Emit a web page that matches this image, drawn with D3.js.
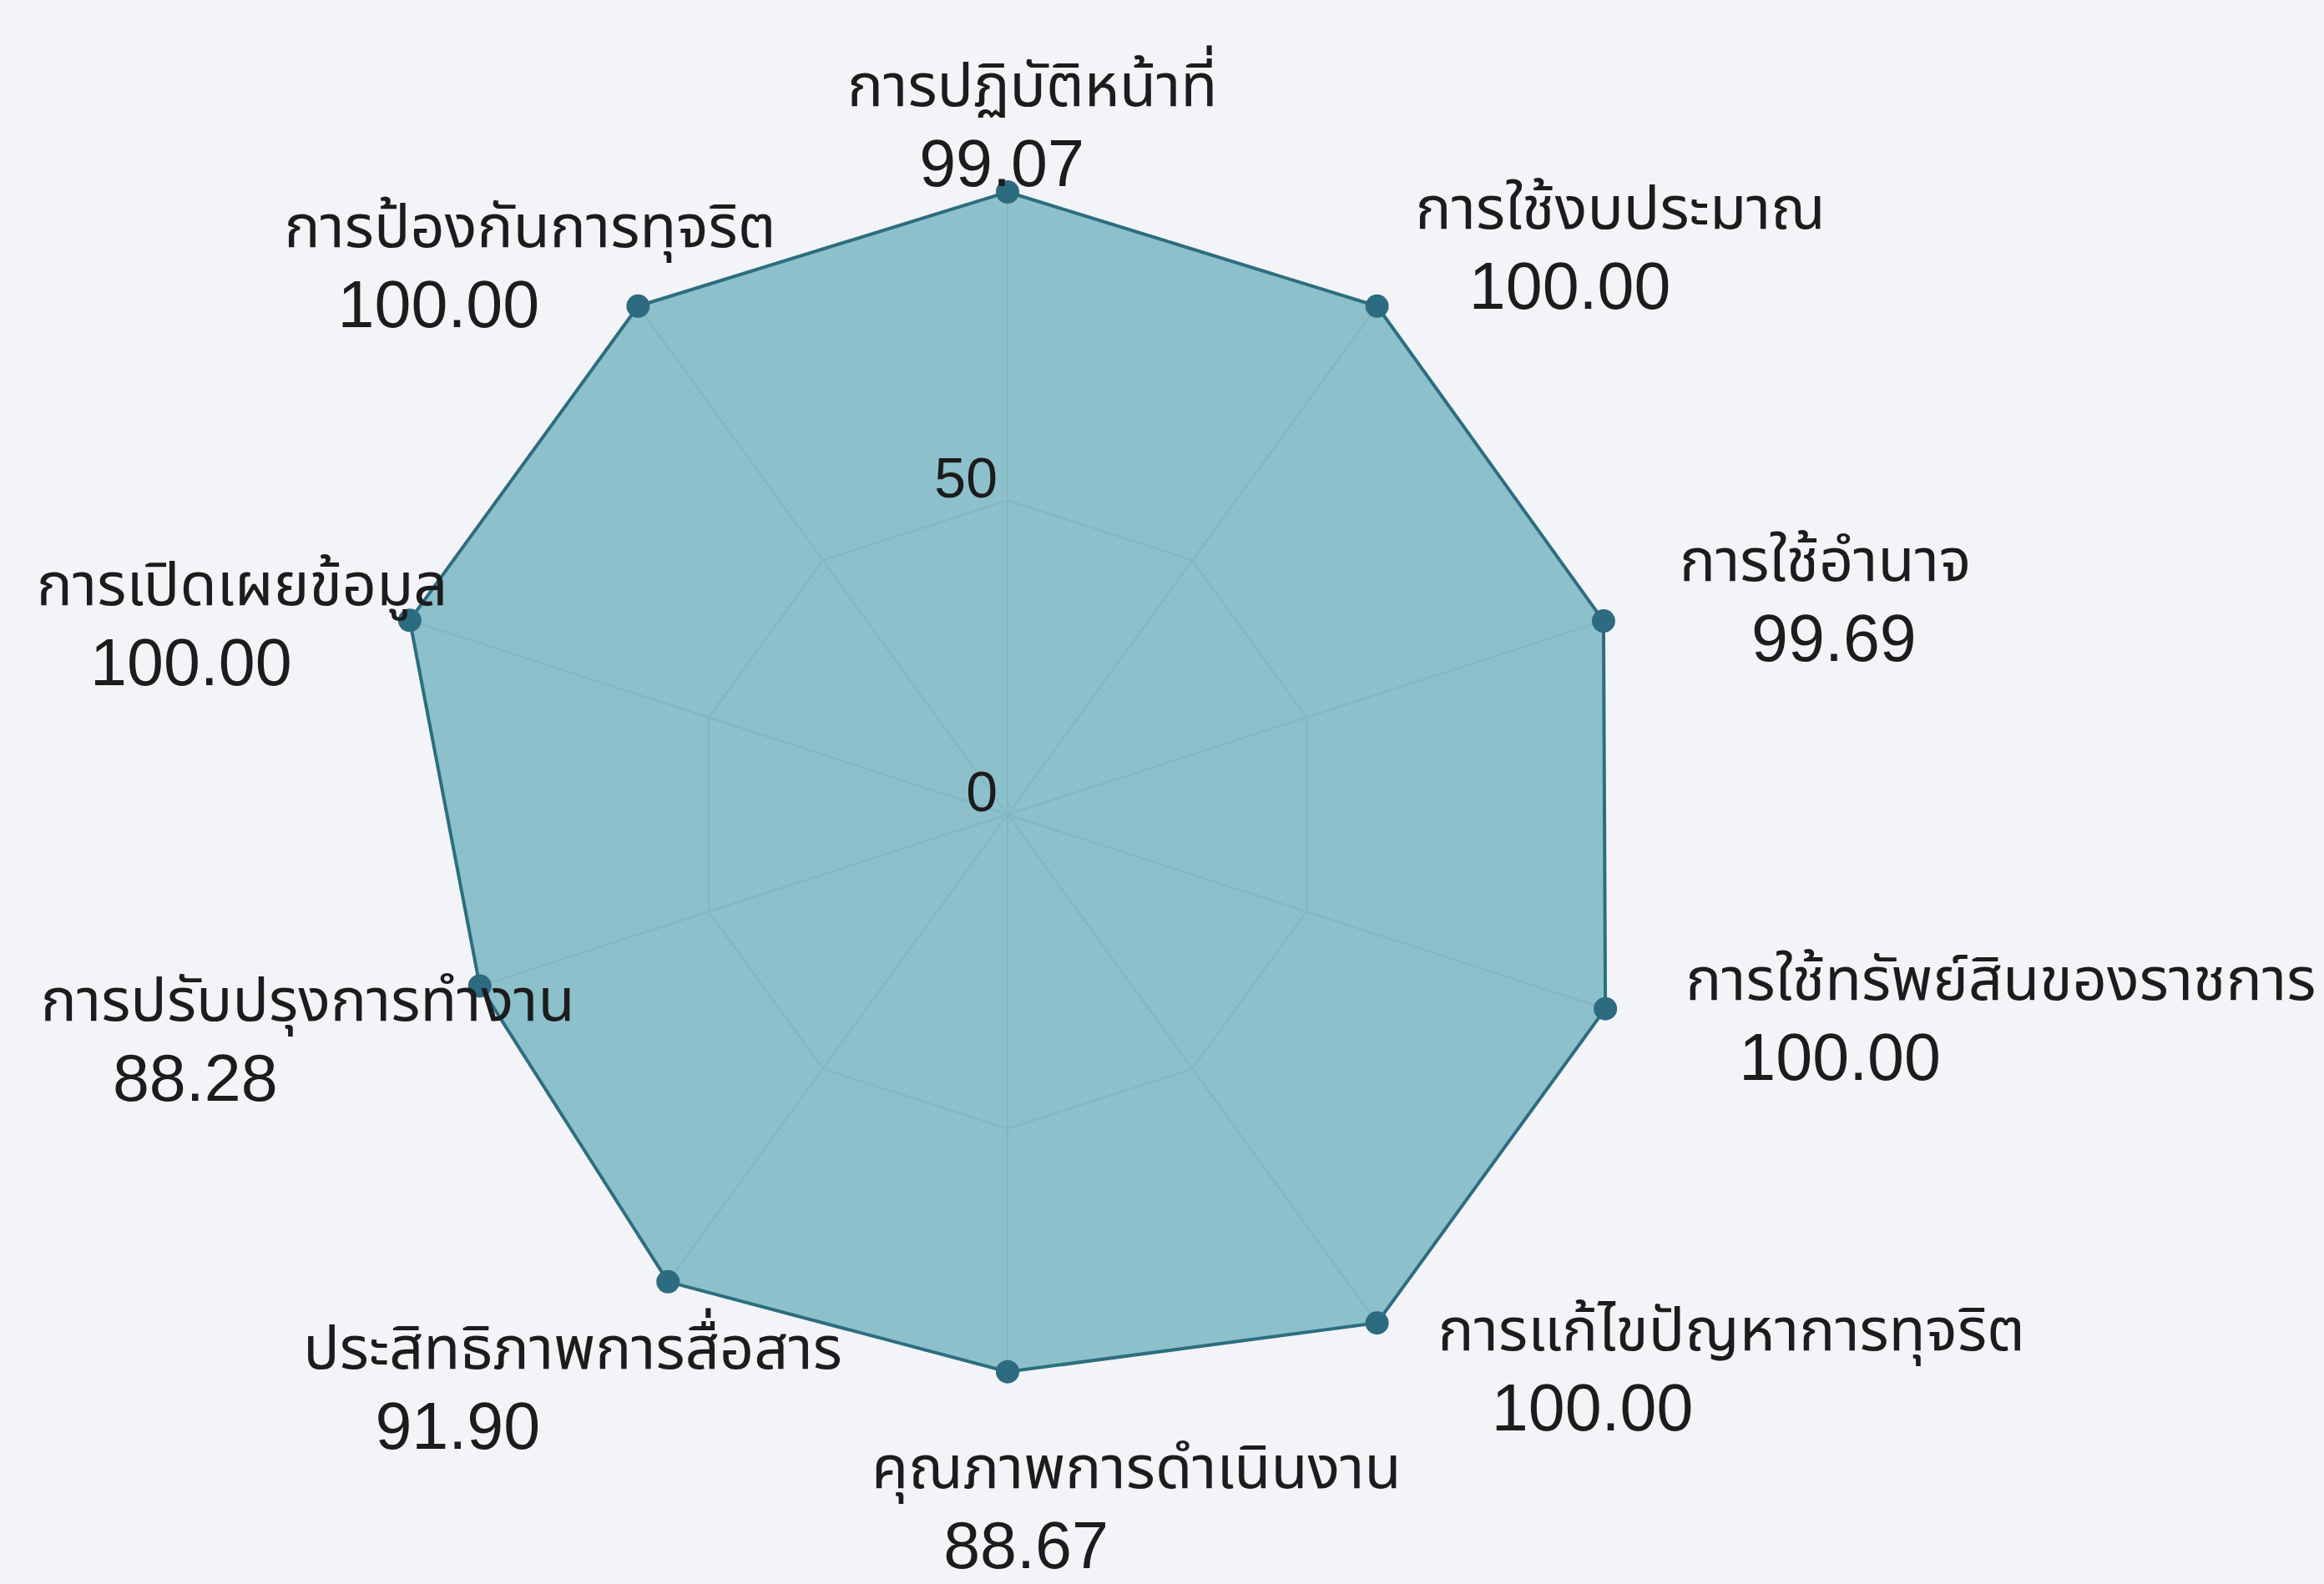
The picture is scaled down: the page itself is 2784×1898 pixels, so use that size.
<!DOCTYPE html>
<html>
<head>
<meta charset="utf-8">
<script src="https://cdn.jsdelivr.net/npm/d3@7"></script>
<style>
  body { margin: 0; background: #f3f4f7; }
  text { fill: #1c1c1c; }
</style>
</head>
<body>
<div id="chart"></div>
<script>
    // categories clockwise from the top
    var categories = ["การปฏิบัติหน้าที่", "การใช้งบประมาณ", "การใช้อำนาจ", "การใช้ทรัพย์สินของราชการ",
        "การแก้ไขปัญหาการทุจริต", "คุณภาพการดำเนินงาน", "ประสิทธิภาพการสื่อสาร",
        "การปรับปรุงการทำงาน", "การเปิดเผยข้อมูล", "การป้องกันการทุจริต"];
    var scores = [99.07, 100.00, 99.69, 100.00, 100.00, 88.67, 91.90, 88.28, 100.00, 100.00];
    var tickValues = [0, 50];
    var gridValues = [50, 100];

    // where each label block sits, relative to its point (cat text left edge, cat text middle)
    var labelNudge = [[-192, -124], [46, -114], [91, -69], [96, -32], [73, 12],
        [-163, 118], [-437, 83], [-526, 21], [-447, -39], [-424, -92]];

    var width = 2784, height = 1898;
    var cx = 1207, cy = 976, R = 753;

    var svg = d3.select("#chart")
                .append("svg")
                .attr("width", width)
                .attr("height", height);

    var g = svg.append("g")
               .attr("transform", "translate(" + cx + "," + cy + ")");

    var r = d3.scaleLinear().domain([0, 100]).range([0, R]);
    var angle = d3.scalePoint()
                  .domain(d3.range(categories.length + 1))
                  .range([0, 2 * Math.PI]);

    function px(i, v) { return r(v) * Math.sin(angle(i)); }
    function py(i, v) { return -r(v) * Math.cos(angle(i)); }

    var radar = d3.lineRadial()
                  .angle(function(d, i) { return angle(i); })
                  .radius(function(d) { return r(d); })
                  .curve(d3.curveLinearClosed);

    // the grid only shows through the filled area
    svg.append("clipPath")
       .attr("id", "inside")
       .append("path")
       .attr("transform", "translate(" + cx + "," + cy + ")")
       .datum(scores)
       .attr("d", radar);

    g.append("path")
     .datum(scores)
     .attr("d", radar)
     .style("fill", "#8cc0cb");

    var grid = svg.append("g")
                  .attr("clip-path", "url(#inside)")
                  .append("g")
                  .attr("transform", "translate(" + cx + "," + cy + ")");

    grid.selectAll(".ring")
     .data(gridValues)
     .enter()
     .append("path")
     .attr("class", "ring")
     .attr("d", function(v) { return radar(categories.map(function() { return v; })); })
     .style("fill", "none")
     .style("stroke", "#84b6c2")
     .style("stroke-width", 2);

    grid.selectAll(".spoke")
     .data(categories)
     .enter()
     .append("line")
     .attr("class", "spoke")
     .attr("x1", 0).attr("y1", 0)
     .attr("x2", function(d, i) { return px(i, 100); })
     .attr("y2", function(d, i) { return py(i, 100); })
     .style("stroke", "#84b6c2")
     .style("stroke-width", 2);

    var front = svg.append("g")
                 .attr("transform", "translate(" + cx + "," + cy + ")");

    front.append("path")
     .datum(scores)
     .attr("d", radar)
     .style("fill", "none")
     .style("stroke", "#2c6e80")
     .style("stroke-width", 4);

    front.selectAll(".dot")
     .data(scores)
     .enter()
     .append("circle")
     .attr("class", "dot")
     .attr("cx", function(d, i) { return px(i, d); })
     .attr("cy", function(d, i) { return py(i, d); })
     .attr("r", 14)
     .style("fill", "#2d6b80");

    // axis ticks on the vertical spoke
    front.selectAll(".tick")
     .data(tickValues)
     .enter()
     .append("text")
     .attr("class", "tick")
     .attr("x", -12)
     .attr("y", function(d) { return -r(d) - 4; })
     .attr("text-anchor", "end")
     .style("font-family", "'Liberation Sans', Arial, sans-serif")
     .style("font-size", "68px")
     .text(function(d) { return d; });

    // data labels: category on one line, score below
    var labels = front.selectAll(".lab")
                  .data(categories)
                  .enter()
                  .append("g")
                  .attr("class", "lab")
                  .attr("transform", function(d, i) {
                      return "translate(" + (px(i, scores[i]) + labelNudge[i][0]) + "," +
                             (py(i, scores[i]) + labelNudge[i][1]) + ")";
                  });

    labels.append("text")
          .attr("y", 21)
          .style("font-family", "'Noto Sans Thai', 'Noto Sans', 'Loma', 'Garuda', sans-serif")
          .style("font-size", "72px")
          .text(function(d) { return d; });

    labels.append("text")
          .attr("x", 185)
          .attr("y", 117)
          .attr("text-anchor", "middle")
          .style("font-family", "'Liberation Sans', Arial, sans-serif")
          .style("font-size", "79px")
          .text(function(d, i) { return d3.format(".2f")(scores[i]); });
</script>
</body>
</html>
